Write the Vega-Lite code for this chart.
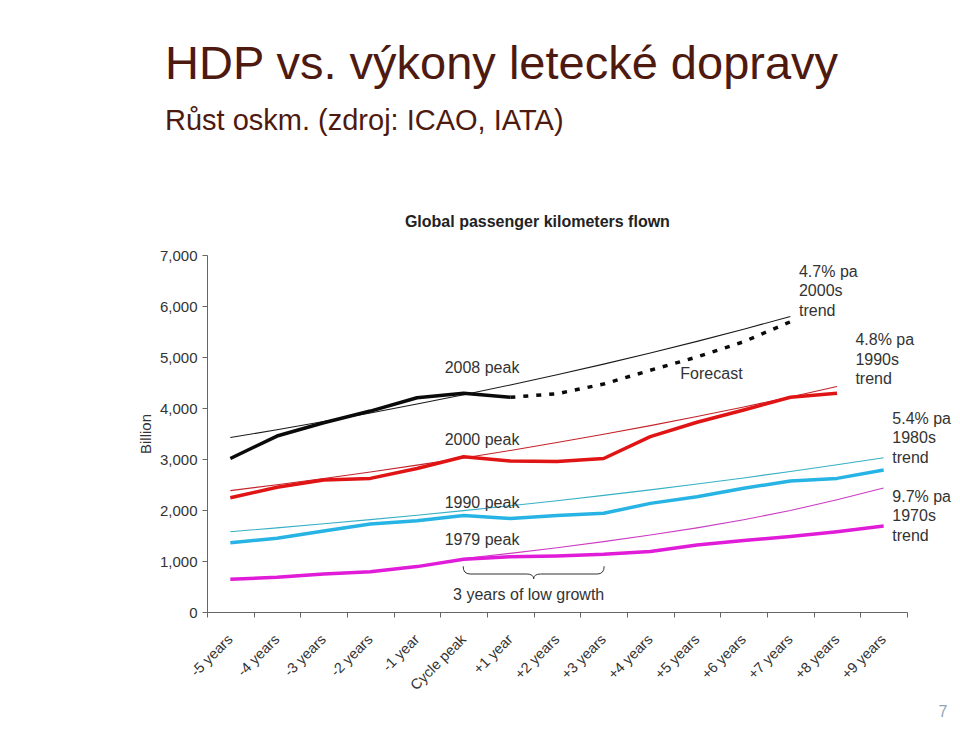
{
  "$schema": "https://vega.github.io/schema/vega-lite/v6.json",
  "width": 700,
  "height": 357,
  "autosize": {"type": "none"},
  "padding": {"left": 207, "top": 255, "right": 53, "bottom": 122},
  "background": "white",
  "config": {"view": {"stroke": null}, "font": "Liberation Sans"},
  "title": {
    "text": "HDP vs. výkony letecké dopravy",
    "subtitle": "Růst oskm.  (zdroj: ICAO, IATA)",
    "anchor": "start",
    "frame": "group",
    "dx": -42,
    "offset": 77,
    "font": "Liberation Sans",
    "fontSize": 47,
    "fontWeight": "normal",
    "color": "#4e1a10",
    "subtitleFont": "Liberation Sans",
    "subtitleFontSize": 29,
    "subtitleColor": "#4e1a10",
    "subtitlePadding": 18
  },
  "datasets": {
    "lines": [
      {"series": "2008 peak", "k": "actual", "t": "-5 years", "v": 3010},
      {"series": "2008 peak", "k": "actual", "t": "-4 years", "v": 3450},
      {"series": "2008 peak", "k": "actual", "t": "-3 years", "v": 3710},
      {"series": "2008 peak", "k": "actual", "t": "-2 years", "v": 3940},
      {"series": "2008 peak", "k": "actual", "t": "-1 year", "v": 4200},
      {"series": "2008 peak", "k": "actual", "t": "Cycle peak", "v": 4290},
      {"series": "2008 peak", "k": "actual", "t": "+1 year", "v": 4210},
      {"series": "2008 forecast", "k": "forecast", "t": "+1 year", "v": 4210},
      {"series": "2008 forecast", "k": "forecast", "t": "+2 years", "v": 4280},
      {"series": "2008 forecast", "k": "forecast", "t": "+3 years", "v": 4470},
      {"series": "2008 forecast", "k": "forecast", "t": "+4 years", "v": 4740},
      {"series": "2008 forecast", "k": "forecast", "t": "+5 years", "v": 5000},
      {"series": "2008 forecast", "k": "forecast", "t": "+6 years", "v": 5300},
      {"series": "2008 forecast", "k": "forecast", "t": "+7 years", "v": 5690},
      {"series": "2000s trend", "k": "trend", "t": "-5 years", "v": 3420},
      {"series": "2000s trend", "k": "trend", "t": "-4 years", "v": 3574},
      {"series": "2000s trend", "k": "trend", "t": "-3 years", "v": 3734},
      {"series": "2000s trend", "k": "trend", "t": "-2 years", "v": 3902},
      {"series": "2000s trend", "k": "trend", "t": "-1 year", "v": 4077},
      {"series": "2000s trend", "k": "trend", "t": "Cycle peak", "v": 4260},
      {"series": "2000s trend", "k": "trend", "t": "+1 year", "v": 4452},
      {"series": "2000s trend", "k": "trend", "t": "+2 years", "v": 4652},
      {"series": "2000s trend", "k": "trend", "t": "+3 years", "v": 4861},
      {"series": "2000s trend", "k": "trend", "t": "+4 years", "v": 5079},
      {"series": "2000s trend", "k": "trend", "t": "+5 years", "v": 5307},
      {"series": "2000s trend", "k": "trend", "t": "+6 years", "v": 5545},
      {"series": "2000s trend", "k": "trend", "t": "+7 years", "v": 5795},
      {"series": "2000 peak", "k": "actual", "t": "-5 years", "v": 2240},
      {"series": "2000 peak", "k": "actual", "t": "-4 years", "v": 2445},
      {"series": "2000 peak", "k": "actual", "t": "-3 years", "v": 2590},
      {"series": "2000 peak", "k": "actual", "t": "-2 years", "v": 2620},
      {"series": "2000 peak", "k": "actual", "t": "-1 year", "v": 2815},
      {"series": "2000 peak", "k": "actual", "t": "Cycle peak", "v": 3045},
      {"series": "2000 peak", "k": "actual", "t": "+1 year", "v": 2960},
      {"series": "2000 peak", "k": "actual", "t": "+2 years", "v": 2950},
      {"series": "2000 peak", "k": "actual", "t": "+3 years", "v": 3010},
      {"series": "2000 peak", "k": "actual", "t": "+4 years", "v": 3440},
      {"series": "2000 peak", "k": "actual", "t": "+5 years", "v": 3720},
      {"series": "2000 peak", "k": "actual", "t": "+6 years", "v": 3960},
      {"series": "2000 peak", "k": "actual", "t": "+7 years", "v": 4210},
      {"series": "2000 peak", "k": "actual", "t": "+8 years", "v": 4290},
      {"series": "1990s trend", "k": "trend", "t": "-5 years", "v": 2380},
      {"series": "1990s trend", "k": "trend", "t": "-4 years", "v": 2496},
      {"series": "1990s trend", "k": "trend", "t": "-3 years", "v": 2618},
      {"series": "1990s trend", "k": "trend", "t": "-2 years", "v": 2746},
      {"series": "1990s trend", "k": "trend", "t": "-1 year", "v": 2880},
      {"series": "1990s trend", "k": "trend", "t": "Cycle peak", "v": 3021},
      {"series": "1990s trend", "k": "trend", "t": "+1 year", "v": 3168},
      {"series": "1990s trend", "k": "trend", "t": "+2 years", "v": 3323},
      {"series": "1990s trend", "k": "trend", "t": "+3 years", "v": 3485},
      {"series": "1990s trend", "k": "trend", "t": "+4 years", "v": 3655},
      {"series": "1990s trend", "k": "trend", "t": "+5 years", "v": 3834},
      {"series": "1990s trend", "k": "trend", "t": "+6 years", "v": 4021},
      {"series": "1990s trend", "k": "trend", "t": "+7 years", "v": 4217},
      {"series": "1990s trend", "k": "trend", "t": "+8 years", "v": 4423},
      {"series": "1990 peak", "k": "actual", "t": "-5 years", "v": 1360},
      {"series": "1990 peak", "k": "actual", "t": "-4 years", "v": 1445},
      {"series": "1990 peak", "k": "actual", "t": "-3 years", "v": 1590},
      {"series": "1990 peak", "k": "actual", "t": "-2 years", "v": 1725},
      {"series": "1990 peak", "k": "actual", "t": "-1 year", "v": 1790},
      {"series": "1990 peak", "k": "actual", "t": "Cycle peak", "v": 1890},
      {"series": "1990 peak", "k": "actual", "t": "+1 year", "v": 1835},
      {"series": "1990 peak", "k": "actual", "t": "+2 years", "v": 1890},
      {"series": "1990 peak", "k": "actual", "t": "+3 years", "v": 1935},
      {"series": "1990 peak", "k": "actual", "t": "+4 years", "v": 2130},
      {"series": "1990 peak", "k": "actual", "t": "+5 years", "v": 2260},
      {"series": "1990 peak", "k": "actual", "t": "+6 years", "v": 2425},
      {"series": "1990 peak", "k": "actual", "t": "+7 years", "v": 2570},
      {"series": "1990 peak", "k": "actual", "t": "+8 years", "v": 2620},
      {"series": "1990 peak", "k": "actual", "t": "+9 years", "v": 2785},
      {"series": "1980s trend", "k": "trend", "t": "-5 years", "v": 1575},
      {"series": "1980s trend", "k": "trend", "t": "-4 years", "v": 1650},
      {"series": "1980s trend", "k": "trend", "t": "-3 years", "v": 1729},
      {"series": "1980s trend", "k": "trend", "t": "-2 years", "v": 1811},
      {"series": "1980s trend", "k": "trend", "t": "-1 year", "v": 1898},
      {"series": "1980s trend", "k": "trend", "t": "Cycle peak", "v": 1988},
      {"series": "1980s trend", "k": "trend", "t": "+1 year", "v": 2083},
      {"series": "1980s trend", "k": "trend", "t": "+2 years", "v": 2182},
      {"series": "1980s trend", "k": "trend", "t": "+3 years", "v": 2286},
      {"series": "1980s trend", "k": "trend", "t": "+4 years", "v": 2395},
      {"series": "1980s trend", "k": "trend", "t": "+5 years", "v": 2509},
      {"series": "1980s trend", "k": "trend", "t": "+6 years", "v": 2629},
      {"series": "1980s trend", "k": "trend", "t": "+7 years", "v": 2754},
      {"series": "1980s trend", "k": "trend", "t": "+8 years", "v": 2886},
      {"series": "1980s trend", "k": "trend", "t": "+9 years", "v": 3024},
      {"series": "1979 peak", "k": "actual", "t": "-5 years", "v": 640},
      {"series": "1979 peak", "k": "actual", "t": "-4 years", "v": 680},
      {"series": "1979 peak", "k": "actual", "t": "-3 years", "v": 745},
      {"series": "1979 peak", "k": "actual", "t": "-2 years", "v": 790},
      {"series": "1979 peak", "k": "actual", "t": "-1 year", "v": 890},
      {"series": "1979 peak", "k": "actual", "t": "Cycle peak", "v": 1035},
      {"series": "1979 peak", "k": "actual", "t": "+1 year", "v": 1085},
      {"series": "1979 peak", "k": "actual", "t": "+2 years", "v": 1100},
      {"series": "1979 peak", "k": "actual", "t": "+3 years", "v": 1130},
      {"series": "1979 peak", "k": "actual", "t": "+4 years", "v": 1185},
      {"series": "1979 peak", "k": "actual", "t": "+5 years", "v": 1315},
      {"series": "1979 peak", "k": "actual", "t": "+6 years", "v": 1400},
      {"series": "1979 peak", "k": "actual", "t": "+7 years", "v": 1480},
      {"series": "1979 peak", "k": "actual", "t": "+8 years", "v": 1575},
      {"series": "1979 peak", "k": "actual", "t": "+9 years", "v": 1685},
      {"series": "1970s trend", "k": "trend", "t": "Cycle peak", "v": 1050},
      {"series": "1970s trend", "k": "trend", "t": "+1 year", "v": 1150},
      {"series": "1970s trend", "k": "trend", "t": "+2 years", "v": 1260},
      {"series": "1970s trend", "k": "trend", "t": "+3 years", "v": 1380},
      {"series": "1970s trend", "k": "trend", "t": "+4 years", "v": 1510},
      {"series": "1970s trend", "k": "trend", "t": "+5 years", "v": 1650},
      {"series": "1970s trend", "k": "trend", "t": "+6 years", "v": 1810},
      {"series": "1970s trend", "k": "trend", "t": "+7 years", "v": 1990},
      {"series": "1970s trend", "k": "trend", "t": "+8 years", "v": 2200},
      {"series": "1970s trend", "k": "trend", "t": "+9 years", "v": 2430}
    ],
    "peakLabels": [
      {"label": "2008 peak", "t": "Cycle peak", "v": 4784},
      {"label": "2000 peak", "t": "Cycle peak", "v": 3373},
      {"label": "1990 peak", "t": "Cycle peak", "v": 2137},
      {"label": "1979 peak", "t": "Cycle peak", "v": 1412},
      {"label": "3 years of low growth", "t": "+1 year", "v": 333}
    ],
    "forecastLabel": [
      {"label": "Forecast", "t": "+5 years", "v": 4667}
    ],
    "trendLabelsA": [
      {"label": "4.7% pa\n2000s\ntrend", "t": "+7 years", "v": 6667},
      {"label": "5.4% pa\n1980s\ntrend", "t": "+9 years", "v": 3794},
      {"label": "9.7% pa\n1970s\ntrend", "t": "+9 years", "v": 2255}
    ],
    "trendLabelsB": [
      {"label": "4.8% pa\n1990s\ntrend", "t": "+8 years", "v": 5333}
    ],
    "brace": [
      {"t": "+1 year", "v": 745}
    ]
  },
  "layer": [
    {
      "data": {"name": "lines"},
      "transform": [{"filter": {"field": "k", "equal": "trend"}}],
      "mark": {"type": "line", "strokeWidth": 1.1, "strokeJoin": "round"},
      "encoding": {
        "x": {
          "field": "t",
          "type": "ordinal",
          "sort": null,
          "scale": {
            "type": "band",
            "domain": ["-5 years", "-4 years", "-3 years", "-2 years", "-1 year", "Cycle peak", "+1 year", "+2 years", "+3 years", "+4 years", "+5 years", "+6 years", "+7 years", "+8 years", "+9 years"],
            "paddingInner": 0,
            "paddingOuter": 0
          },
          "axis": {
            "title": null,
            "labelAngle": -45,
            "labelAlign": "right",
            "labelBaseline": "middle",
            "labelFontSize": 14.5,
            "labelColor": "#333333",
            "labelPadding": 20,
            "tickBand": "extent",
            "tickSize": 5,
            "tickColor": "#666666",
            "domainColor": "#666666",
            "grid": false
          }
        },
        "y": {
          "field": "v",
          "type": "quantitative",
          "scale": {"domain": [0, 7000], "nice": false},
          "axis": {
            "title": "Billion",
            "values": [0, 1000, 2000, 3000, 4000, 5000, 6000, 7000],
            "format": ",d",
            "labelFontSize": 15,
            "labelColor": "#333333",
            "labelPadding": 5,
            "tickSize": 5,
            "tickColor": "#666666",
            "domainColor": "#666666",
            "grid": false,
            "titleFontSize": 15,
            "titleFontWeight": "normal",
            "titleColor": "#333333",
            "titlePadding": 6
          }
        },
        "color": {
          "field": "series",
          "type": "nominal",
          "scale": {
            "domain": ["2008 peak", "2008 forecast", "2000s trend", "2000 peak", "1990s trend", "1990 peak", "1980s trend", "1979 peak", "1970s trend"],
            "range": ["#0a0a0a", "#0a0a0a", "#1a1a1a", "#e01414", "#c4232a", "#27b4e4", "#36b0c4", "#e01cd8", "#cc3cc2"]
          },
          "legend": null
        }
      }
    },
    {
      "data": {"name": "lines"},
      "transform": [{"filter": {"field": "k", "equal": "actual"}}],
      "mark": {"type": "line", "strokeWidth": 3.5, "strokeJoin": "round"},
      "encoding": {
        "x": {"field": "t", "type": "ordinal", "sort": null},
        "y": {"field": "v", "type": "quantitative"},
        "color": {"field": "series", "type": "nominal", "legend": null}
      }
    },
    {
      "data": {"name": "lines"},
      "transform": [{"filter": {"field": "k", "equal": "forecast"}}],
      "mark": {"type": "line", "strokeWidth": 3.5, "strokeDash": [5, 8], "strokeJoin": "round"},
      "encoding": {
        "x": {"field": "t", "type": "ordinal", "sort": null},
        "y": {"field": "v", "type": "quantitative"},
        "color": {"field": "series", "type": "nominal", "legend": null}
      }
    },
    {
      "data": {"name": "peakLabels"},
      "mark": {"type": "text", "fontSize": 16, "color": "#333333", "align": "center", "baseline": "middle"},
      "encoding": {
        "x": {"field": "t", "type": "ordinal", "sort": null, "bandPosition": 0.893},
        "y": {"field": "v", "type": "quantitative"},
        "text": {"field": "label"}
      }
    },
    {
      "data": {"name": "forecastLabel"},
      "mark": {"type": "text", "fontSize": 16, "color": "#333333", "align": "center", "baseline": "middle"},
      "encoding": {
        "x": {"field": "t", "type": "ordinal", "sort": null, "bandPosition": 0.81},
        "y": {"field": "v", "type": "quantitative"},
        "text": {"field": "label"}
      }
    },
    {
      "data": {"name": "trendLabelsA"},
      "mark": {"type": "text", "fontSize": 16, "color": "#333333", "align": "left", "baseline": "middle", "lineBreak": "\n", "lineHeight": 19.5},
      "encoding": {
        "x": {"field": "t", "type": "ordinal", "sort": null, "bandPosition": 0.685},
        "y": {"field": "v", "type": "quantitative"},
        "text": {"field": "label"}
      }
    },
    {
      "data": {"name": "trendLabelsB"},
      "mark": {"type": "text", "fontSize": 16, "color": "#333333", "align": "left", "baseline": "middle", "lineBreak": "\n", "lineHeight": 19.5},
      "encoding": {
        "x": {"field": "t", "type": "ordinal", "sort": null, "bandPosition": 0.894},
        "y": {"field": "v", "type": "quantitative"},
        "text": {"field": "label"}
      }
    },
    {
      "data": {"name": "brace"},
      "mark": {
        "type": "point",
        "shape": "M -1 -0.11 Q -1 0 -0.9 0 L -0.1 0 Q 0 0 0 0.07 Q 0 0 0.1 0 L 0.9 0 Q 1 0 1 -0.11",
        "size": 19881,
        "filled": false,
        "color": "#333333",
        "strokeWidth": 1,
        "opacity": 1
      },
      "encoding": {
        "x": {"field": "t", "type": "ordinal", "sort": null, "bandPosition": 1},
        "y": {"field": "v", "type": "quantitative"}
      }
    },
    {
      "data": {"values": [{}]},
      "mark": {"type": "text", "text": "Global passenger kilometers flown", "fontSize": 16, "fontWeight": "bold", "color": "#222222", "align": "center", "baseline": "middle", "dy": -33},
      "encoding": {
        "x": {"datum": "+2 years", "type": "ordinal", "bandPosition": 0.08},
        "y": {"datum": 7000, "type": "quantitative"}
      }
    },
    {
      "data": {"values": [{}]},
      "mark": {"type": "text", "text": "7", "fontSize": 16, "color": "#8fa5b5", "align": "center", "baseline": "middle", "dx": 36, "dy": 100},
      "encoding": {
        "x": {"datum": "+9 years", "type": "ordinal", "bandPosition": 1},
        "y": {"datum": 0, "type": "quantitative"}
      }
    }
  ]
}
